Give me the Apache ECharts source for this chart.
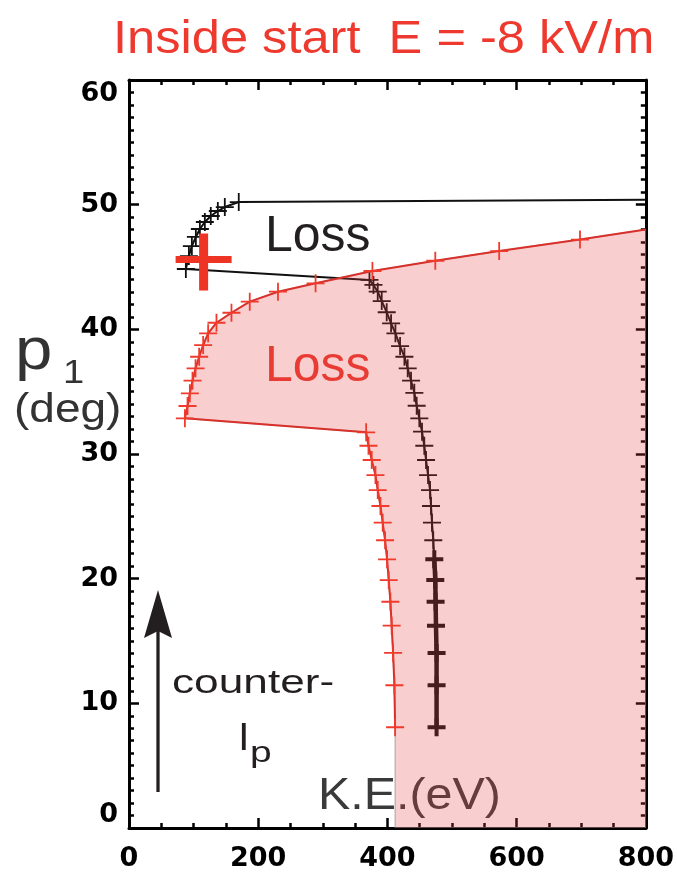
<!DOCTYPE html>
<html>
<head>
<meta charset="utf-8">
<script src="https://cdn.jsdelivr.net/npm/echarts@6/dist/echarts.min.js"></script>
<style>
  html, body { margin: 0; padding: 0; background: #fff; }
  #chart { width: 677px; height: 876px; }
</style>
</head>
<body>
<div id="chart"></div>
<script>
// Axis ticks
const keTicks = [0, 200, 400, 600, 800];
const pitchTicks = [0, 10, 20, 30, 40, 50, 60];

// Black loss boundary: descending branch (low pitch -> high), jump to the upper-left arc, then out to 800 eV
const blackKE = [476.1, 476.1, 476.1, 475.2, 474.6, 474.1, 472.6, 471.0, 469.0, 467.5,
                 466.0, 462.9, 459.8, 457.1, 453.6, 449.4, 445.3, 441.7, 436.6, 431.4,
                 426.3, 419.6, 412.4, 405.7, 398.9, 391.2, 385.0, 378.4, 372.2,
                 88.0, 92.7, 97.3, 103.5, 109.7, 117.4, 126.6, 137.5, 148.3, 169.9, 800];
const blackPitch = [8.08, 11.45, 14.04, 16.23, 18.15, 19.89, 21.55, 23.08, 24.49, 25.83,
                    27.11, 28.31, 29.52, 30.66, 31.79, 32.86, 33.87, 34.91, 35.88, 36.87,
                    37.80, 38.66, 39.68, 40.48, 41.37, 42.27, 43.02, 43.56, 43.96,
                    44.84, 45.88, 46.68, 47.41, 48.05, 48.61, 49.09, 49.49, 49.81, 50.21, 50.40];

// Red loss boundary: lower branch, jump left, then the rising arc out to 800 eV
const redKE = [411.9, 410.8, 408.8, 406.6, 404.6, 402.0, 399.5, 396.4, 392.7, 389.2,
               385.0, 381.5, 375.7, 370.7, 367.1,
               86.5, 90.6, 94.2, 98.3, 103.0, 108.6, 114.8, 122.5, 135.4, 158.6,
               186.9, 230.6, 288.8, 376.8, 474.1, 573.0, 698.1, 800];
const redPitch = [8.08, 11.45, 14.04, 16.23, 18.15, 19.89, 21.55, 23.08, 24.49, 25.83,
                  27.11, 28.31, 29.52, 30.66, 31.74,
                  32.86, 33.85, 34.87, 35.88, 36.87, 37.80, 38.74, 39.68, 40.53, 41.33,
                  42.22, 43.02, 43.69, 44.68, 45.50, 46.28, 47.20, 48.00];

// Corners that close the red region along the axes
const fillCornerKE = [800, 412, 412];
const fillCornerPitch = [0, 0, 8.08];

// Starting point
const startKE = [115.5];
const startPitch = [45.6];

const BOLD_COUNT = 7; // heavier samples at the bottom of the black branch
const PLUS = 'path://M-1,0L1,0M0,-1L0,1';

function pairs(xs, ys) { return xs.map((x, i) => [x, ys[i]]); }

const blackData = pairs(blackKE, blackPitch).map((p, i, arr) => {
  const item = { value: p };
  if (i === arr.length - 1) item.symbol = 'none';
  if (i < BOLD_COUNT) item.itemStyle = { borderWidth: 4 };
  return item;
});
const redData = pairs(redKE, redPitch).map((p, i, arr) => {
  const item = { value: p };
  if (i === arr.length - 1) item.symbol = 'none';
  return item;
});

const tickLabelFont = { fontFamily: 'DejaVu Sans', fontWeight: 'bold', fontSize: 27, color: '#000' };
const axisLine = { show: true, onZero: false, lineStyle: { color: '#000', width: 3 } };
const axisTick = { show: true, inside: true, length: 10, lineStyle: { color: '#000', width: 2.5 } };
const minorTickX = { show: true, splitNumber: 4, length: 5, lineStyle: { color: '#000', width: 2.5 } };
const minorTickY = { show: true, splitNumber: 10, length: 5, lineStyle: { color: '#000', width: 2.5 } };

const xBase = {
  type: 'value', min: keTicks[0], max: keTicks[keTicks.length - 1],
  interval: keTicks[1] - keTicks[0],
  axisLine, axisTick, minorTick: minorTickX,
  splitLine: { show: false }, minorSplitLine: { show: false }
};
const yBase = {
  type: 'value', min: pitchTicks[0], max: pitchTicks[pitchTicks.length - 1],
  interval: pitchTicks[1] - pitchTicks[0],
  axisLine, axisTick, minorTick: minorTickY,
  splitLine: { show: false }, minorSplitLine: { show: false }
};

const chart = echarts.init(document.getElementById('chart'), null, { renderer: 'canvas' });

const option = {
  animation: false,
  backgroundColor: '#fff',
  grid: { left: 129, right: 30, top: 80, bottom: 48, containLabel: false },
  xAxis: [
    Object.assign({}, xBase, { position: 'bottom',
      axisLabel: Object.assign({ margin: 17 }, tickLabelFont) }),
    Object.assign({}, xBase, { position: 'top', axisLabel: { show: false } })
  ],
  yAxis: [
    Object.assign({}, yBase, { position: 'left',
      axisLabel: Object.assign({ margin: 11, verticalAlignMaxLabel: 'top', verticalAlignMinLabel: 'bottom' }, tickLabelFont) }),
    Object.assign({}, yBase, { position: 'right', axisLabel: { show: false } })
  ],
  graphic: [
    { type: 'text', z: 1, x: 113, y: 40, scaleX: 1.1,
      style: { text: 'Inside start  E = -8 kV/m', fill: '#ee3a2e', fontFamily: 'Liberation Sans', fontSize: 46, verticalAlign: 'middle' } },
    { type: 'text', z: 1, x: 265, y: 237,
      style: { text: 'Loss', fill: '#231f20', fontFamily: 'Liberation Sans', fontSize: 50, verticalAlign: 'middle' } },
    { type: 'text', z: 1, x: 265, y: 367,
      style: { text: 'Loss', fill: '#e8392f', fontFamily: 'Liberation Sans', fontSize: 50, verticalAlign: 'middle' } },
    { type: 'text', z: 1, x: 15, y: 352, scaleX: 1.12,
      style: { text: 'p', fill: '#333', fontFamily: 'Liberation Sans', fontSize: 60, verticalAlign: 'middle' } },
    { type: 'text', z: 1, x: 63, y: 374, scaleX: 1.12,
      style: { text: '1', fill: '#333', fontFamily: 'Liberation Sans', fontSize: 34, verticalAlign: 'middle' } },
    { type: 'text', z: 1, x: 14, y: 411, scaleX: 1.15,
      style: { text: '(deg)', fill: '#333', fontFamily: 'Liberation Sans', fontSize: 40, verticalAlign: 'middle' } },
    { type: 'text', z: 1, x: 172, y: 684, scaleX: 1.34,
      style: { text: 'counter-', fill: '#231f20', fontFamily: 'Liberation Sans', fontSize: 33, verticalAlign: 'middle' } },
    { type: 'text', z: 1, x: 239, y: 740, scaleX: 1.2,
      style: { text: 'l', fill: '#231f20', fontFamily: 'Liberation Sans', fontSize: 36, verticalAlign: 'middle' } },
    { type: 'text', z: 1, x: 250, y: 754, scaleX: 1.3,
      style: { text: 'p', fill: '#231f20', fontFamily: 'Liberation Sans', fontSize: 30, verticalAlign: 'middle' } },
    { type: 'text', z: 1, x: 318, y: 797, scaleX: 1.1,
      style: { text: 'K.E.(eV)', fill: '#3a3a3a', fontFamily: 'Liberation Sans', fontSize: 44, verticalAlign: 'middle' } },
    // arrow pointing toward higher pitch
    { type: 'line', z: 1, shape: { x1: 158, y1: 792, x2: 158, y2: 625 },
      style: { stroke: '#231f20', lineWidth: 3.3 } },
    { type: 'polygon', z: 1, shape: { points: [[158, 590], [172, 638], [158, 631], [144, 638]] },
      style: { fill: '#231f20' } }
  ],
  series: [
    {
      name: 'black boundary', type: 'line', z: 2, data: blackData,
      symbol: PLUS, symbolSize: 18, showAllSymbol: true,
      lineStyle: { color: '#111', width: 2 },
      itemStyle: { color: 'transparent', borderColor: '#111', borderWidth: 1.8 },
      emphasis: { disabled: true }, clip: true
    },
    {
      name: 'black boundary heavy', type: 'line', z: 2,
      data: pairs(blackKE, blackPitch).slice(0, BOLD_COUNT),
      symbol: 'none', lineStyle: { color: '#111', width: 4.5 },
      emphasis: { disabled: true }
    },
    {
      name: 'loss region', type: 'custom', z: 3, silent: true, clip: true,
      data: [[0, 0]],
      renderItem: (params, api) => {
        const pts = [];
        pts.push(api.coord([fillCornerKE[1], fillCornerPitch[1]]));
        pts.push(api.coord([fillCornerKE[2], fillCornerPitch[2]]));
        for (let i = 0; i < redKE.length; i++) pts.push(api.coord([redKE[i], redPitch[i]]));
        pts.push(api.coord([fillCornerKE[0], fillCornerPitch[0]]));
        return {
          type: 'polygon', shape: { points: pts },
          style: { fill: 'rgba(232, 66, 66, 0.26)', stroke: 'rgba(150, 150, 150, 0.55)', lineWidth: 1.5 }
        };
      }
    },
    {
      name: 'red boundary', type: 'line', z: 4, data: redData,
      symbol: PLUS, symbolSize: 18, showAllSymbol: true,
      lineStyle: { color: '#d8302a', width: 2 },
      itemStyle: { color: 'transparent', borderColor: '#f03a2c', borderWidth: 1.8 },
      emphasis: { disabled: true }, clip: true
    },
    {
      name: 'start', type: 'custom', z: 5, silent: true,
      data: pairs(startKE, startPitch),
      renderItem: (params, api) => {
        const c = api.coord([api.value(0), api.value(1)]);
        return {
          type: 'group', children: [
            { type: 'rect', shape: { x: c[0] - 28, y: c[1] - 3.5, width: 56, height: 7 }, style: { fill: '#ee3424' } },
            { type: 'rect', shape: { x: c[0] - 4.5, y: c[1] - 26, width: 9, height: 57 }, style: { fill: '#ee3424' } }
          ]
        };
      }
    }
  ]
};

chart.setOption(option);
</script>
</body>
</html>
